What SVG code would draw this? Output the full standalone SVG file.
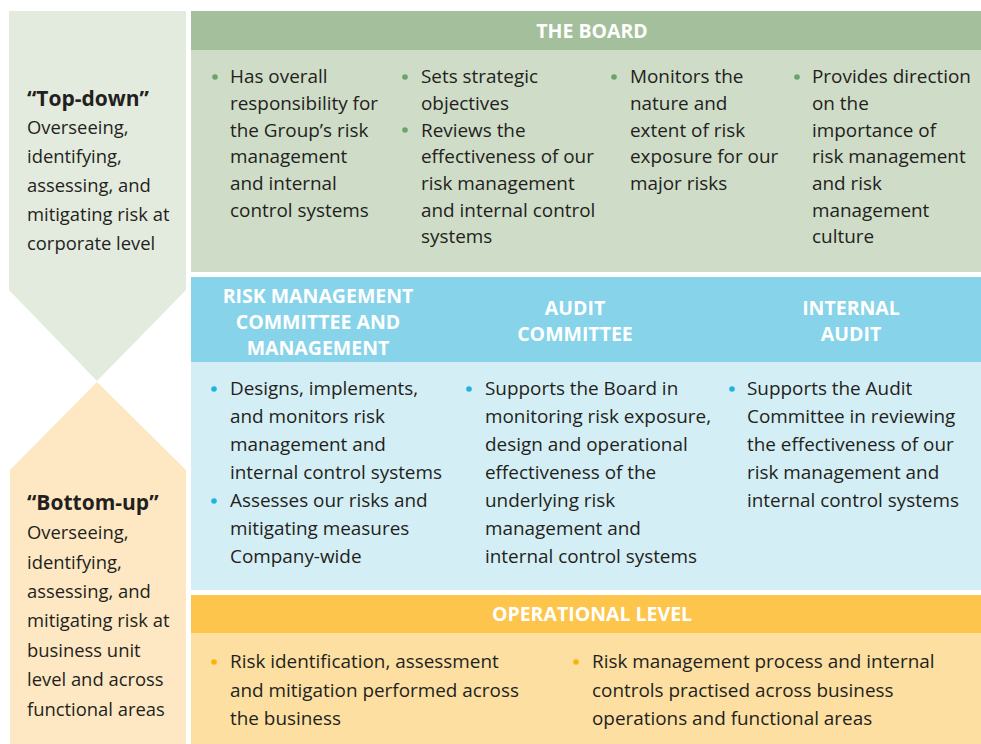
<svg xmlns="http://www.w3.org/2000/svg" width="981" height="744" viewBox="0 0 981 744">
<style>
.t{font-family:"Open Sans","Liberation Sans",sans-serif;font-size:18.9px;fill:#231f20}
.l{font-family:"Open Sans","Liberation Sans",sans-serif;font-size:18.4px;fill:#231f20}
.tb{font-family:"Open Sans","Liberation Sans",sans-serif;font-size:21px;font-weight:bold;fill:#231f20}
.h{font-family:"Open Sans","Liberation Sans",sans-serif;font-size:19.5px;font-weight:bold;fill:#ffffff;text-anchor:middle}
.bg{fill:#6da36a}.bb{fill:#1cb5e0}.bo{fill:#fbb400}
</style>
<rect width="981" height="744" fill="#ffffff"/>
<g id="top-down">
<polygon points="9,11 186,11 186,290 97,381 9,290" fill="#e3ebdf"/>
<text class="tb" x="27" y="106">“Top-down”</text>
<text class="l"><tspan x="27" y="134">Overseeing,</tspan><tspan x="27" y="163">identifying,</tspan><tspan x="27" y="192">assessing, and</tspan><tspan x="27" y="221">mitigating risk at</tspan><tspan x="27" y="250">corporate level</tspan></text>
</g>
<g id="bottom-up">
<polygon points="97,382 186,470 186,744 10,744 10,470" fill="#fde8c3"/>
<text class="tb" x="27" y="510">“Bottom-up”</text>
<text class="l"><tspan x="27" y="539">Overseeing,</tspan><tspan x="27" y="569">identifying,</tspan><tspan x="27" y="598">assessing, and</tspan><tspan x="27" y="627">mitigating risk at</tspan><tspan x="27" y="657">business unit</tspan><tspan x="27" y="686">level and across</tspan><tspan x="27" y="716">functional areas</tspan></text>
</g>
<g id="board">
<rect x="191" y="11" width="790" height="39" fill="#a4bf9b"/>
<rect x="191" y="50" width="790" height="222" fill="#cfdcc8"/>
<text class="h" x="592" y="38">THE BOARD</text>
<circle class="bg" cx="215" cy="77" r="2.8"/>
<text class="t"><tspan x="230" y="83">Has overall</tspan><tspan x="230" y="110">responsibility for</tspan><tspan x="230" y="137">the Group’s risk</tspan><tspan x="230" y="163">management</tspan><tspan x="230" y="190">and internal</tspan><tspan x="230" y="217">control systems</tspan></text>
<circle class="bg" cx="405" cy="77" r="2.8"/>
<circle class="bg" cx="405" cy="130" r="2.8"/>
<text class="t"><tspan x="421" y="83">Sets strategic</tspan><tspan x="421" y="110">objectives</tspan><tspan x="421" y="137">Reviews the</tspan><tspan x="421" y="163">effectiveness of our</tspan><tspan x="421" y="190">risk management</tspan><tspan x="421" y="217">and internal control</tspan><tspan x="421" y="243">systems</tspan></text>
<circle class="bg" cx="614" cy="77" r="2.8"/>
<text class="t"><tspan x="630" y="83">Monitors the</tspan><tspan x="630" y="110">nature and</tspan><tspan x="630" y="137">extent of risk</tspan><tspan x="630" y="163">exposure for our</tspan><tspan x="630" y="190">major risks</tspan></text>
<circle class="bg" cx="797" cy="77" r="2.8"/>
<text class="t"><tspan x="812" y="83">Provides direction</tspan><tspan x="812" y="110">on the</tspan><tspan x="812" y="137">importance of</tspan><tspan x="812" y="163">risk management</tspan><tspan x="812" y="190">and risk</tspan><tspan x="812" y="217">management</tspan><tspan x="812" y="243">culture</tspan></text>
</g>
<g id="committees">
<rect x="191" y="277" width="790" height="85" fill="#87d3ea"/>
<rect x="191" y="362" width="790" height="228" fill="#d4eef5"/>
<text class="h"><tspan x="318" y="303">RISK MANAGEMENT</tspan><tspan x="318" y="329">COMMITTEE AND</tspan><tspan x="318" y="355">MANAGEMENT</tspan></text>
<text class="h"><tspan x="575" y="315">AUDIT</tspan><tspan x="575" y="341">COMMITTEE</tspan></text>
<text class="h"><tspan x="851" y="315">INTERNAL</tspan><tspan x="851" y="341">AUDIT</tspan></text>
<circle class="bb" cx="214" cy="389" r="2.8"/>
<circle class="bb" cx="214" cy="501" r="2.8"/>
<text class="t"><tspan x="230" y="395">Designs, implements,</tspan><tspan x="230" y="423">and monitors risk</tspan><tspan x="230" y="451">management and</tspan><tspan x="230" y="479">internal control systems</tspan><tspan x="230" y="507">Assesses our risks and</tspan><tspan x="230" y="535">mitigating measures</tspan><tspan x="230" y="563">Company-wide</tspan></text>
<circle class="bb" cx="469" cy="389" r="2.8"/>
<text class="t"><tspan x="485" y="395">Supports the Board in</tspan><tspan x="485" y="423">monitoring risk exposure,</tspan><tspan x="485" y="451">design and operational</tspan><tspan x="485" y="479">effectiveness of the</tspan><tspan x="485" y="507">underlying risk</tspan><tspan x="485" y="535">management and</tspan><tspan x="485" y="563">internal control systems</tspan></text>
<circle class="bb" cx="732" cy="389" r="2.8"/>
<text class="t"><tspan x="747" y="395">Supports the Audit</tspan><tspan x="747" y="423">Committee in reviewing</tspan><tspan x="747" y="451">the effectiveness of our</tspan><tspan x="747" y="479">risk management and</tspan><tspan x="747" y="507">internal control systems</tspan></text>
</g>
<g id="operational">
<rect x="191" y="595" width="790" height="38" fill="#fdc54b"/>
<rect x="191" y="633" width="790" height="111" fill="#fddfa2"/>
<text class="h" x="592" y="621">OPERATIONAL LEVEL</text>
<circle class="bo" cx="214" cy="662" r="2.8"/>
<text class="t"><tspan x="230" y="668">Risk identification, assessment</tspan><tspan x="230" y="697">and mitigation performed across</tspan><tspan x="230" y="725">the business</tspan></text>
<circle class="bo" cx="576" cy="662" r="2.8"/>
<text class="t"><tspan x="592" y="668">Risk management process and internal</tspan><tspan x="592" y="697">controls practised across business</tspan><tspan x="592" y="725">operations and functional areas</tspan></text>
</g>
<g id="connectors"/>
</svg>
